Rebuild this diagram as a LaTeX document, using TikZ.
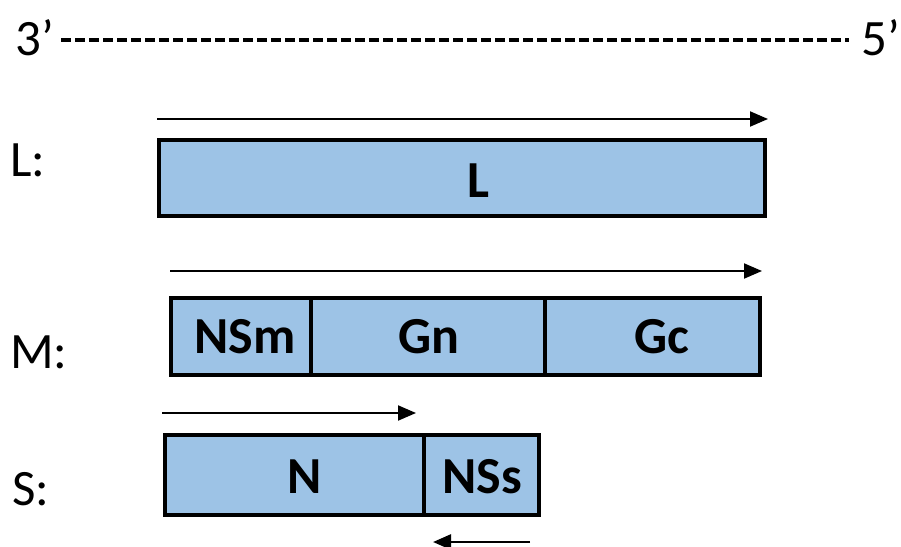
\documentclass[tikz,border=0pt]{standalone}
\usepackage{fontspec}
\setmainfont{Carlito}
\usetikzlibrary{arrows.meta}
\definecolor{boxfill}{HTML}{9DC3E6}
\tikzset{
  seg/.style={draw=black, fill=boxfill, line width=4pt, inner sep=0pt, outer sep=0pt, anchor=north west},
  lbl/.style={font=\fontsize{52}{54}\selectfont\bfseries, inner sep=0pt},
  side/.style={font=\fontsize{51}{53}\selectfont, inner sep=0pt, anchor=west},
  dir/.style={line width=2pt, -{Triangle[length=18pt,width=15pt]}},
}
\begin{document}
\begin{tikzpicture}[x=1pt,y=-1pt]
\useasboundingbox (0,0) rectangle (901,546);
% 3'-5' line
\node[side] (p3) at (15,38) {3’};
\node[font=\fontsize{51}{53}\selectfont, inner sep=0pt, anchor=east] (p5) at (900,38) {5’};
\draw[line width=3.2pt, dash pattern=on 10pt off 4pt] (61,40) -- (849,40);
% side labels
\node[side] (sl) at (10,160) {L:};
\node[side] (sm) at (10,352) {M:};
\node[side] (ss) at (12,489) {S:};
% L
\coordinate (la) at (157,119);
\coordinate (lb) at (768,119);
\draw[dir] (la) -- (lb);
\node[seg, minimum width=606pt, minimum height=76pt] (L) at (159,140) {};
\node[lbl] at (478,181) {L};
% M
\coordinate (ma) at (170,271);
\coordinate (mb) at (762,271);
\draw[dir] (ma) -- (mb);
\node[seg, minimum width=140pt, minimum height=77pt] (NSm) at (171,298) {};
\node[seg, minimum width=234pt, minimum height=77pt] (Gn) at (NSm.north east) {};
\node[seg, minimum width=215pt, minimum height=77pt] (Gc) at (Gn.north east) {};
\node[lbl] at (245,337) {NSm};
\node[lbl] at (429,337) {Gn};
\node[lbl] at (662,337) {Gc};
% S
\coordinate (sa) at (162,413);
\coordinate (sb) at (416,413);
\draw[dir] (sa) -- (sb);
\node[seg, minimum width=259pt, minimum height=80pt] (N) at (165,435) {};
\node[seg, minimum width=115pt, minimum height=80pt] (NSs) at (N.north east) {};
\node[lbl] at (305,477) {N};
\node[lbl] at (482,477) {NSs};
\coordinate (ra) at (530,542);
\coordinate (rb) at (433,542);
\draw[dir, line width=2.6pt] (ra) -- (rb);
\end{tikzpicture}
\end{document}
